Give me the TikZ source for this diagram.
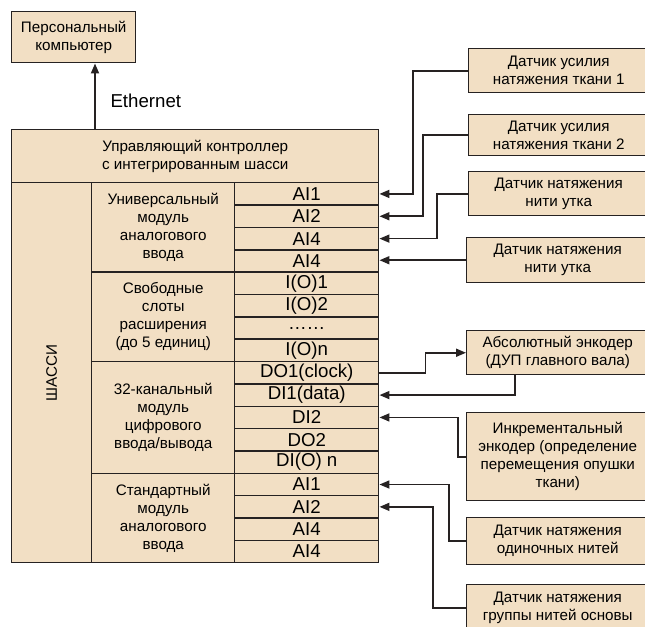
\documentclass[tikz,border=0pt]{standalone}
\usepackage{fontspec}
\setmainfont{Liberation Sans}
\usepackage{graphicx}
\usetikzlibrary{arrows.meta}
\definecolor{boxfill}{RGB}{242,223,196}
\definecolor{linegray}{RGB}{38,34,34}
\tikzset{
  box/.style={draw=linegray, fill=boxfill, line width=1.1pt, inner sep=0pt, align=center,
    anchor=north west, font=\fontsize{11.4}{13.5}\selectfont},
  cell/.style={box, minimum width=108pt, minimum height=16.765pt, font=\fontsize{14}{16}\selectfont},
  module/.style={box, minimum width=107.25pt},
  sensor/.style={box, minimum width=136.5pt},
  conn/.style={draw=linegray, line width=1.3pt, -{Triangle[length=7.5pt,width=6pt]}},
}
\begin{document}
\begin{tikzpicture}[x=0.75pt, y=-0.75pt]
   \useasboundingbox (0,0) rectangle (645,626);
   \node[box, minimum width=93pt, minimum height=38.25pt] (pc) at (11,11) {Персональный\\компьютер};
   \node[box, minimum width=275.25pt, minimum height=39.75pt] (ctrl) at (11,129) {Управляющий контроллер\\с интегрированным шасси};
   \node[box, minimum width=60pt, minimum height=285pt] (chassis) at (11,182) {\rotatebox{90}{ШАССИ}};
   \node[module, minimum height=67.06pt] (univ) at (91,182) {Универсальный\\модуль\\аналогового\\ввода};
   \node[module, minimum height=67.06pt] (slots) at (91,271.41) {Свободные\\слоты\\расширения\\(до 5 единиц)};
   \node[module, minimum height=83.82pt] (digital) at (91,360.82) {32-канальный\\модуль\\цифрового\\ввода/вывода};
   \node[module, minimum height=67.06pt] (stdmod) at (91,472.59) {Стандартный\\модуль\\аналогового\\ввода};
   \foreach \lab [count=\i] in {AI1,AI2,AI4,AI4,I(O)1,I(O)2,\ldots\ldots,I(O)n,DO1(clock),DI1(data),DI2,DO2,DI(O) n,AI1,AI2,AI4,AI4}
      \node[cell] (r\i) at (234,{182+(\i-1)*22.353}) {\lab};

   \node[sensor, minimum width=135pt, minimum height=33pt] (s1) at (468,48) {Датчик усилия\\натяжения ткани 1};
   \node[sensor, minimum width=135pt, minimum height=30.75pt] (s2) at (468,114) {Датчик усилия\\натяжения ткани 2};
   \node[sensor, minimum width=135pt, minimum height=33pt] (s3) at (468,171) {Датчик натяжения\\нити утка};
   \node[sensor, minimum height=33.75pt] (s4) at (466,237) {Датчик натяжения\\нити утка};
   \node[sensor, minimum height=33pt] (s5) at (466,330) {Абсолютный энкодер\\(ДУП главного вала)};
   \node[sensor, minimum height=66pt] (s6) at (466,412) {Инкрементальный\\энкодер (определение\\перемещения опушки\\ткани)};
   \node[sensor, minimum height=35.25pt] (s7) at (466,517) {Датчик натяжения\\одиночных нитей};
   \node[sensor, minimum height=34.5pt] (s8) at (466,584) {Датчик натяжения\\группы нитей основы};

   \coordinate (eth) at (95,129);
   \draw[conn] (eth) -- (eth |- pc.south) node[pos=0.43, anchor=west, xshift=11pt, inner sep=0pt, font=\fontsize{14}{16}\selectfont] {Ethernet};

   \draw[conn] (s1.west) -- ++(-55,0) |- (r1.east);
   \draw[conn] (s2.west) -- ++(-45,0) |- (r2.east);
   \draw[conn] (s3.west) -- ++(-31,0) |- (r3.east);
   \draw[conn] (s4.west) -- (s4.west -| r4.east);
   \draw[conn] (r9.east) -- ++(46,0) |- (s5.west);
   \draw[conn] ([xshift=-32.25pt]s5.south) |- (r10.east);
   \draw[conn] (s6.west) -- ++(-8,0) |- (r11.east);
   \draw[conn] (s7.west) -- ++(-17,0) |- (r14.east);
   \draw[conn] (s8.west) -- ++(-33,0) |- (r15.east);
\end{tikzpicture}
\end{document}
